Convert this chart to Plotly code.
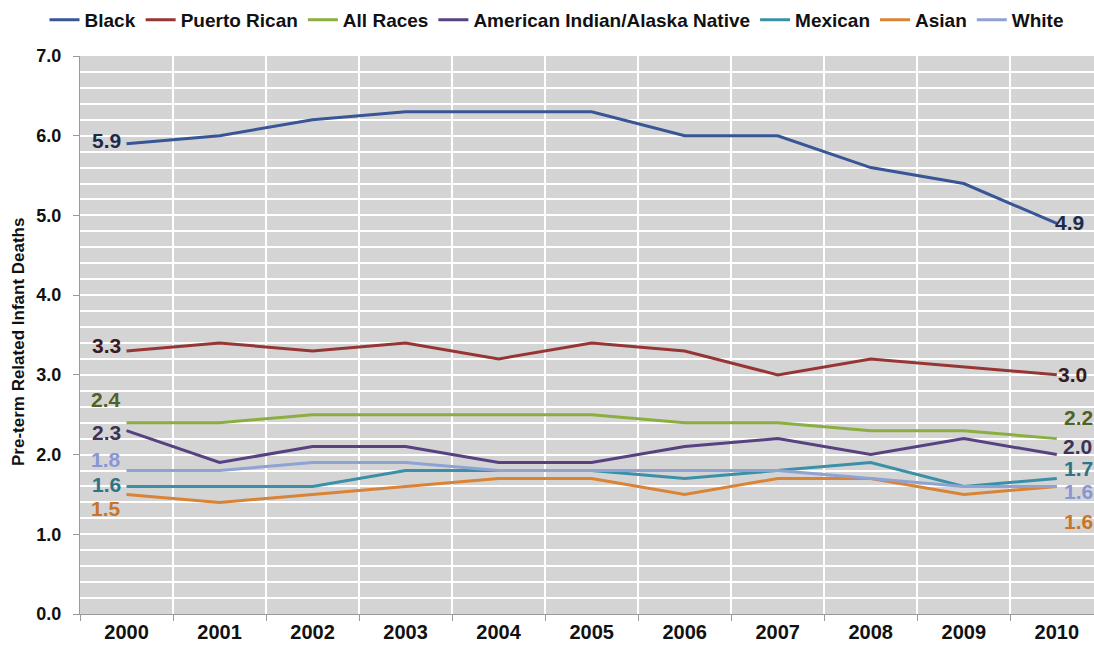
import plotly.graph_objects as go

# Pre-term related infant deaths by race/ethnicity, 2000-2010
years = ["2000", "2001", "2002", "2003", "2004", "2005",
         "2006", "2007", "2008", "2009", "2010"]

black = [5.9, 6.0, 6.2, 6.3, 6.3, 6.3, 6.0, 6.0, 5.6, 5.4, 4.9]
puerto_rican = [3.3, 3.4, 3.3, 3.4, 3.2, 3.4, 3.3, 3.0, 3.2, 3.1, 3.0]
all_races = [2.4, 2.4, 2.5, 2.5, 2.5, 2.5, 2.4, 2.4, 2.3, 2.3, 2.2]
american_indian = [2.3, 1.9, 2.1, 2.1, 1.9, 1.9, 2.1, 2.2, 2.0, 2.2, 2.0]
mexican = [1.6, 1.6, 1.6, 1.8, 1.8, 1.8, 1.7, 1.8, 1.9, 1.6, 1.7]
asian = [1.5, 1.4, 1.5, 1.6, 1.7, 1.7, 1.5, 1.7, 1.7, 1.5, 1.6]
white = [1.8, 1.8, 1.9, 1.9, 1.8, 1.8, 1.8, 1.8, 1.7, 1.6, 1.6]

series_names = ["Black", "Puerto Rican", "All Races",
                "American Indian/Alaska Native", "Mexican", "Asian", "White"]
series_values = [black, puerto_rican, all_races, american_indian,
                 mexican, asian, white]

y_ticks = [0, 1, 2, 3, 4, 5, 6, 7]
y_title = "Pre-term Related Infant Deaths"

# Styling: line colour, end-label colour, and pixel nudges for the
# first (left) and last (right) value labels: (xshift, yshift)
line_colors = ["#385596", "#963634", "#8AAE3F", "#574181",
               "#3A90A6", "#D98336", "#8FA2D4"]
label_colors = ["#1C2A4A", "#3A1A1E", "#4F6228", "#3D3256",
                "#2E7386", "#C8742A", "#8896D6"]
left_nudge = [(-4, 3), (-4, 5), (-4, 23), (-4, -2), (-4, 2), (-4, -14), (-4, 11)]
right_nudge = [(-4, 1), (-1, 0), (5, 21), (4, 8), (5, 10), (5, -35), (5, -5)]

FONT = "Liberation Sans, Arial, sans-serif"

fig = go.Figure()
for name, vals, col in zip(series_names, series_values, line_colors):
    fig.add_trace(go.Scatter(
        x=years, y=vals, mode="lines", name=name,
        line=dict(color=col, width=3),
    ))

annotations = []
last = len(years) - 1
for i, vals in enumerate(series_values):
    for idx, anchor, nudge in ((0, "right", left_nudge[i]),
                               (last, "left", right_nudge[i])):
        annotations.append(dict(
            # category axis: position by category index
            x=idx, y=vals[idx], xref="x", yref="y",
            text=f"{vals[idx]:.1f}", showarrow=False,
            xanchor=anchor, yanchor="middle",
            xshift=nudge[0], yshift=nudge[1],
            font=dict(family=FONT, size=21, color=label_colors[i], weight=700),
        ))

annotations.append(dict(
    x=0, y=0.5, xref="paper", yref="paper", xshift=-62, yshift=-7,
    text=y_title, textangle=-90, showarrow=False,
    xanchor="center", yanchor="middle",
    font=dict(family=FONT, size=17, color="#111111", weight=700),
))

fig.update_layout(
    width=1094, height=649,
    margin=dict(l=80, r=0, t=56, b=35),
    paper_bgcolor="white",
    plot_bgcolor="#D4D4D4",
    font=dict(family=FONT, color="#111111"),
    showlegend=True,
    legend=dict(
        orientation="h", x=-0.035, y=1.0645, xanchor="left", yanchor="middle",
        font=dict(family=FONT, size=19, color="#111111", weight=700),
        bgcolor="rgba(0,0,0,0)", itemwidth=30, tracegroupgap=0,
    ),
    annotations=annotations,
    xaxis=dict(
        type="category", range=[-0.5, 10.4], tickson="boundaries",
        showgrid=True, gridcolor="white", gridwidth=1.5,
        ticks="outside", ticklen=6, tickcolor="#9a9a9a",
        showline=True, linecolor="#9a9a9a", linewidth=1,
        tickfont=dict(family=FONT, size=20, color="#111111", weight=700),
        zeroline=False,
    ),
    yaxis=dict(
        range=[0, 7], tickvals=y_ticks,
        ticktext=[f"{v:.1f}" for v in y_ticks],
        showgrid=True, gridcolor="white", gridwidth=1.5,
        minor=dict(dtick=0.2, showgrid=True, gridcolor="white", gridwidth=1.5),
        ticks="outside", ticklen=6, tickcolor="#9a9a9a",
        showline=True, linecolor="#9a9a9a", linewidth=1,
        tickfont=dict(family=FONT, size=18, color="#111111", weight=700),
        ticklabelstandoff=8, zeroline=False,
    ),
)

fig.write_html("out.html")
